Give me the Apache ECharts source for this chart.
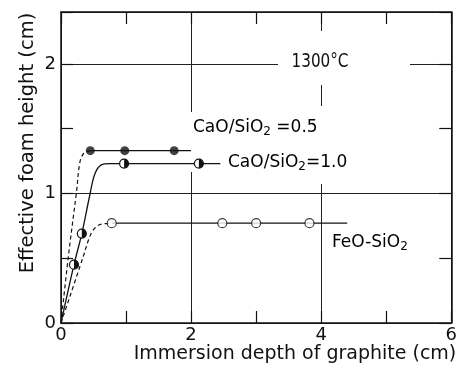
<!DOCTYPE html>
<html>
<head>
<meta charset="utf-8">
<script src="https://cdn.jsdelivr.net/npm/echarts@6/dist/echarts.min.js"></script>
<style>
  html, body { margin: 0; padding: 0; background: #fff; }
  #chart { width: 460px; height: 369px; }
</style>
</head>
<body>
<div id="chart"></div>
<script>
// Effective foam height vs. immersion depth of graphite, 1300 °C

// CaO/SiO2 = 0.5 (filled circles)
const cao05Points = [[0.45, 1.33], [0.98, 1.33], [1.74, 1.33]];
const cao05Rise = [[0, 0], [0.11, 0.5], [0.24, 1.02], [0.29, 1.24], [0.35, 1.31], [0.45, 1.33]];
const cao05LineEnd = 2.0;

// CaO/SiO2 = 1.0 (half-filled circles)
const cao10Points = [[0.2, 0.45], [0.32, 0.69], [0.97, 1.23], [2.12, 1.23]];
const cao10Rise = [[0, 0], [0.2, 0.45], [0.32, 0.69], [0.44, 0.98], [0.52, 1.15], [0.62, 1.22], [0.75, 1.23], [0.97, 1.23]];
const cao10LineEnd = 2.45;

// FeO-SiO2 (open circles)
const feoPoints = [[0.78, 0.77], [2.48, 0.77], [3.0, 0.77], [3.82, 0.77]];
const feoRise = [[0, 0], [0.34, 0.51], [0.43, 0.65], [0.5, 0.72], [0.6, 0.76], [0.78, 0.77]];
const feoLineEnd = 4.4;

// axis ranges and steps
const xRange = [0, 6];
const yRange = [0, 2.4];
const xLabelStep = 2, xTickStep = 1;
const yLabelStep = 1, yTickStep = 0.5;

const INK = '#111';
const FONT = 'DejaVu Sans';

function plateau(points, end) {
  const first = points.find(p => p[1] === points[points.length - 1][1]);
  return [first, [end, first[1]]];
}

const chart = echarts.init(document.getElementById('chart'), null, { renderer: 'canvas' });

// frame sides carrying the short inward ticks
function tickAxis(position, range, step, showLine) {
  return {
    type: 'value', position: position, min: range[0], max: range[1], interval: step,
    axisLine: { show: showLine, onZero: false, lineStyle: { color: INK, width: 1.5 } },
    axisTick: { show: true, inside: true, length: 12, lineStyle: { color: INK, width: 1.2 } },
    axisLabel: { show: false },
    splitLine: { show: false }
  };
}

// labelled sides with the grid lines
function mainAxis(position, range, step, margin) {
  return {
    type: 'value', position: position, min: range[0], max: range[1], interval: step,
    axisLine: { show: true, onZero: false, lineStyle: { color: INK, width: 1.5 } },
    axisTick: { show: false },
    axisLabel: { show: true, margin: margin, showMaxLabel: position === 'bottom', fontFamily: FONT, fontSize: 18, color: INK },
    splitLine: { show: true, lineStyle: { color: '#222', width: 1 } }
  };
}

function halfCircle(params, api) {
  const c = api.coord([api.value(0), api.value(1)]);
  const r = 4.5;
  return {
    type: 'group',
    children: [
      { type: 'circle', shape: { cx: c[0], cy: c[1], r: r }, style: { fill: '#fff', stroke: INK, lineWidth: 1.2 } },
      { type: 'sector', shape: { cx: c[0], cy: c[1], r0: 0, r: r, startAngle: -Math.PI / 2, endAngle: Math.PI / 2, clockwise: true }, style: { fill: INK } }
    ]
  };
}

const lineBase = { type: 'line', showSymbol: false, symbol: 'none', silent: true };

const subRich = {
  a: { fontFamily: FONT, fontSize: 17, color: INK },
  s: { fontFamily: FONT, fontSize: 12, color: INK, padding: [7, 0, 0, 0] }
};

chart.setOption({
  animation: false,
  backgroundColor: '#fff',
  grid: { left: 61, right: 8, top: 12, bottom: 46, containLabel: false },
  xAxis: [
    mainAxis('bottom', xRange, xLabelStep, 3),
    tickAxis('top', xRange, xTickStep, true),
    tickAxis('bottom', xRange, xTickStep, false)
  ],
  yAxis: [
    mainAxis('left', yRange, yLabelStep, 5),
    tickAxis('right', yRange, yTickStep, true),
    tickAxis('left', yRange, yTickStep, false)
  ],
  series: [
    Object.assign({}, lineBase, { data: cao05Rise, smooth: 0.35, lineStyle: { color: INK, width: 1.2, type: [4, 3] } }),
    Object.assign({}, lineBase, { data: plateau(cao05Points, cao05LineEnd), lineStyle: { color: INK, width: 1.3 } }),
    Object.assign({}, lineBase, { data: cao10Rise, smooth: 0.35, lineStyle: { color: INK, width: 1.3 } }),
    Object.assign({}, lineBase, { data: plateau(cao10Points, cao10LineEnd), lineStyle: { color: INK, width: 1.3 } }),
    Object.assign({}, lineBase, { data: feoRise, smooth: 0.35, lineStyle: { color: INK, width: 1.2, type: [4, 3] } }),
    Object.assign({}, lineBase, { data: plateau(feoPoints, feoLineEnd), lineStyle: { color: INK, width: 1.3 } }),
    { type: 'scatter', data: cao05Points, symbol: 'circle', symbolSize: 9, itemStyle: { color: INK }, z: 5 },
    { type: 'custom', data: cao10Points, renderItem: halfCircle, z: 5 },
    { type: 'scatter', data: feoPoints, symbol: 'circle', symbolSize: 9, itemStyle: { color: '#fff', borderColor: INK, borderWidth: 1.2 }, z: 5 }
  ],
  graphic: [
    // breaks in the grid lines around the annotations
    { type: 'rect', z: 1, shape: { x: 278, y: 31, width: 132, height: 54 }, style: { fill: '#fff' } },
    { type: 'rect', z: 1, shape: { x: 316, y: 106, width: 8, height: 78 }, style: { fill: '#fff' } },
    { type: 'rect', z: 1, shape: { x: 188, y: 112, width: 8, height: 60 }, style: { fill: '#fff' } },
    {
      type: 'text', z: 100, x: 320, y: 62, scaleX: 0.8,
      style: { text: '1300°C', x: 0, y: 0, align: 'center', verticalAlign: 'middle', fontFamily: FONT, fontSize: 19, fill: INK }
    },
    {
      type: 'text', z: 100, x: 193, y: 128,
      style: { text: '{a|CaO/SiO}{s|2}{a| =0.5}', x: 0, y: 0, align: 'left', verticalAlign: 'middle', rich: subRich }
    },
    {
      type: 'text', z: 100, x: 228, y: 163,
      style: { text: '{a|CaO/SiO}{s|2}{a|=1.0}', x: 0, y: 0, align: 'left', verticalAlign: 'middle', rich: subRich }
    },
    {
      type: 'text', z: 100, x: 332, y: 243,
      style: { text: '{a|FeO-SiO}{s|2}', x: 0, y: 0, align: 'left', verticalAlign: 'middle', rich: subRich }
    },
    {
      type: 'text', z: 100, x: 295, y: 354,
      style: { text: 'Immersion depth of graphite (cm)', x: 0, y: 0, align: 'center', verticalAlign: 'middle', fontFamily: FONT, fontSize: 19, fill: INK }
    },
    {
      type: 'text', z: 100, x: 28, y: 143, rotation: Math.PI / 2,
      style: { text: 'Effective foam height (cm)', x: 0, y: 0, align: 'center', verticalAlign: 'middle', fontFamily: FONT, fontSize: 19.5, fill: INK }
    }
  ]
});
</script>
</body>
</html>
